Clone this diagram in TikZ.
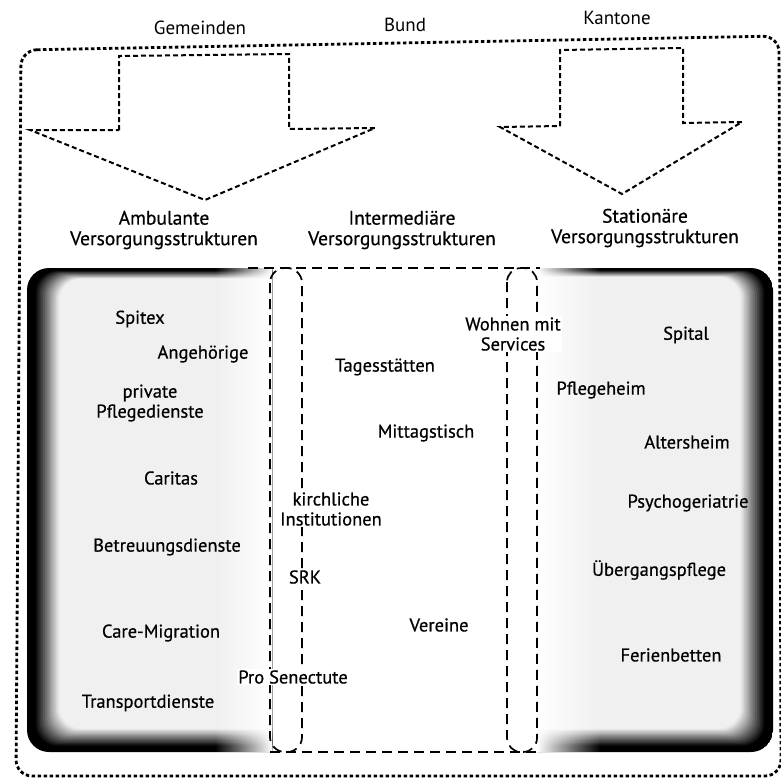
\documentclass[tikz,border=0pt]{standalone}
\usepackage{fontspec}
\setmainfont{PT Sans}
\newfontfamily\medfont{PT Sans}[FakeBold=0.6]
\usepackage{tikz}
\usetikzlibrary{calc,fadings}

\tikzfading[name=fadeleft, left color=transparent!100, right color=transparent!0]
\tikzfading[name=faderight, left color=transparent!0, right color=transparent!100]

\begin{document}
\begin{tikzpicture}[x=1pt,y=-1pt,
  top/.style={font=\fontsize{19}{20}\selectfont, inner sep=0pt},
  hdr/.style={font=\medfont\fontsize{19.5}{20.5}\selectfont, align=center, inner sep=0pt},
  lbl/.style={font=\medfont\fontsize{18.5}{20}\selectfont, align=center, inner sep=0pt},
  cut/.style={lbl, fill=white, inner sep=1pt},
  frame/.style={line width=2.8pt, dash pattern=on 3.5pt off 2.5pt},
  blockarrow/.style={line width=2pt, dash pattern=on 5pt off 3pt},
  midline/.style={line width=1.7pt, dash pattern=on 10pt off 6pt}]
\useasboundingbox (0,0) rectangle (781,780);

%Outer frame
\draw[frame, rounded corners=16] (21,50) -- (779,36) -- (781,776) -- (16,776) -- cycle;

%Block arrows
\draw[blockarrow] (119,130) -- (119,56) -- (289,54) -- (289,129) -- (375,128) -- (205,200) -- (30,130) -- cycle;
\draw[blockarrow] (560,126) -- (560,50) -- (683,48) -- (683,123) -- (742,122) -- (622,194) -- (500,127) -- cycle;

%Top labels
\node[top] (gemeinden) at (200,28) {Gemeinden};
\node[top] (bund) at (405,25) {Bund};
\node[top] (kantone) at (617,18) {Kantone};
\node[hdr] (ambulant) at (164,230) {Ambulante\\Versorgungsstrukturen};
\node[hdr] (intermed) at (402,230) {Intermediäre\\Versorgungsstrukturen};
\node[hdr] (station) at (645,228) {Stationäre\\Versorgungsstrukturen};

%Left box shading
\begin{scope}
\clip[rounded corners=22] (27,268) rectangle (500,752);
\clip (27,268) rectangle (272,752);
\foreach \k in {0,...,18}{
  \pgfmathtruncatemacro\g{min(100,max(6,128-7*\k))}
  \fill[black!\g, rounded corners=22] (27+1.8*\k,268+0.6*\k) rectangle (450,752-1.3*\k);
}
\fill[white, path fading=fadeleft] (215,266) rectangle (272,754);
\end{scope}

%Right box shading
\begin{scope}
\clip[rounded corners=22] (300,268) rectangle (773,752);
\clip (537,268) rectangle (773,752);
\foreach \k in {0,...,18}{
  \pgfmathtruncatemacro\g{min(100,max(6,128-7*\k))}
  \fill[black!\g, rounded corners=22] (350,268+0.5*\k) rectangle (773-1.8*\k,752-1.3*\k);
}
\fill[white, path fading=faderight] (537,266) rectangle (600,754);
\end{scope}

%Middle part and overlaps
\draw[midline] (248,268) -- (540,268);
\draw[midline] (270,752) -- (540,752);
\draw[midline, rounded corners=15pt] (270,268) rectangle (302,752);
\draw[midline, rounded corners=14pt] (507,268) rectangle (537,752);

%Ambulant
\node[lbl] (spitex) at (140,319) {Spitex};
\node[lbl] (angeh) at (203,354) {Angehörige};
\node[lbl] (privat) at (150,403) {private\\Pflegedienste};
\node[lbl] (caritas) at (171,478) {Caritas};
\node[lbl] (betreu) at (167,547) {Betreuungsdienste};
\node[lbl] (caremig) at (161,633) {Care-Migration};
\node[lbl] (transp) at (148,703) {Transportdienste};

%Overlap left
\node[cut] (kirch) at (331,509) {kirchliche\\Institutionen};
\node[cut] (srk) at (305,577) {SRK};
\node[cut] (prosen) at (293,677) {Pro Senectute};

%Intermediaer
\node[lbl] (tages) at (385,367) {Tagesstätten};
\node[lbl] (mittag) at (426,433) {Mittagstisch};
\node[lbl] (vereine) at (439,625) {Vereine};
\node[cut] (wohnen) at (513,334) {Wohnen mit\\Services};

%Stationaer
\node[lbl] (spital) at (686,335) {Spital};
\node[lbl] (pflheim) at (601,390) {Pflegeheim};
\node[lbl] (altheim) at (687,442) {Altersheim};
\node[lbl] (psycho) at (688,503) {Psychogeriatrie};
\node[lbl] (uebergang) at (659,570) {Übergangspflege};
\node[lbl] (ferien) at (671,655) {Ferienbetten};

\end{tikzpicture}
\end{document}
